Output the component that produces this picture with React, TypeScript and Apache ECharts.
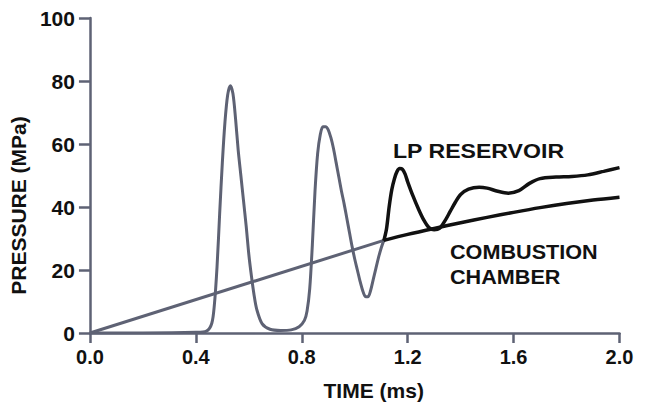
import React, { useEffect, useRef } from "react";
import * as echarts from "echarts";

// Time ticks (ms) and pressure ticks (MPa)
const xTicks = [0.0, 0.4, 0.8, 1.2, 1.6, 2.0];
const yTicks = [0, 20, 40, 60, 80, 100];

// Combustion chamber, early (grey) part
const chamberEarlyT = [0, 1.11];
const chamberEarlyP = [0, 29.4];

// Combustion chamber, late (black) part
const chamberLateT = [1.11, 1.2, 1.3, 1.4, 1.5, 1.6, 1.7, 1.8, 1.9, 2.0];
const chamberLateP = [29.4, 31.3, 33.2, 35.0, 36.7, 38.3, 39.8, 41.1, 42.2, 43.1];

// LP reservoir, early (grey) part
const lpEarlyT = [
  0, 0.2, 0.4, 0.44, 0.46, 0.47, 0.48, 0.49, 0.5, 0.51, 0.52, 0.53, 0.54, 0.55, 0.56,
  0.57, 0.58, 0.59, 0.6, 0.61, 0.62, 0.63, 0.65, 0.68, 0.72, 0.76, 0.79, 0.81, 0.82,
  0.83, 0.84, 0.85, 0.86, 0.87, 0.88, 0.89, 0.9, 0.91, 0.92, 0.93, 0.94, 0.95, 0.96,
  0.97, 0.98, 0.99, 1.0, 1.01, 1.02, 1.03, 1.04, 1.05, 1.06, 1.07, 1.08, 1.09, 1.1, 1.11,
];
const lpEarlyP = [
  0, 0, 0.2, 0.6, 3, 9, 21, 38, 54, 67, 75.5, 78.5, 76, 68, 58,
  50, 42, 34, 25, 18, 12, 7.5, 3, 1.2, 0.8, 1, 2, 4, 7,
  14, 28, 45, 57, 63, 65.5, 65.5, 64.5, 62, 58.5, 54, 49.5, 45, 41,
  36.5, 32, 27.5, 23.5, 20, 16.5, 13.5, 11.6, 11.5, 13.5, 17, 20.5, 24, 27, 29.4,
];

// LP reservoir, late (black) part
const lpLateT = [
  1.11, 1.12, 1.13, 1.14, 1.15, 1.16, 1.17, 1.18, 1.19, 1.2, 1.22, 1.24, 1.26, 1.28,
  1.3, 1.32, 1.34, 1.36, 1.38, 1.4, 1.43, 1.47, 1.5, 1.54, 1.58, 1.62, 1.66, 1.7,
  1.76, 1.82, 1.88, 1.94, 2.0,
];
const lpLateP = [
  29.3, 33, 40, 45.5, 49, 51.3, 52.2, 52, 50.5, 48, 43.5, 39.5, 36, 33.5,
  32.8, 33.2, 35.5, 38.5, 41.5, 44, 45.7, 46.3, 46, 45, 44.4, 45.2, 47.5, 49,
  49.5, 49.7, 50.2, 51.3, 52.5,
];

const pairs = (t: number[], p: number[]) => t.map((v, i) => [v, p[i]]);

const GREY = "#5e6274";
const BLACK = "#111111";
const FONT = "Liberation Sans, Arial, Helvetica, sans-serif";

export default function App() {
  const ref = useRef<HTMLDivElement>(null);

  useEffect(() => {
    if (!ref.current) return;
    const chart = echarts.init(ref.current, undefined, { renderer: "svg" });
    chart.setOption({
      animation: false,
      backgroundColor: "#ffffff",
      grid: { left: 87, right: 35.5, top: 18, bottom: 80 },
      xAxis: {
        type: "value",
        min: xTicks[0],
        max: xTicks[xTicks.length - 1],
        interval: 0.4,
        name: "TIME (ms)",
        nameLocation: "middle",
        nameGap: 47,
        nameTextStyle: {
          color: BLACK,
          fontFamily: FONT,
          fontSize: 21,
          fontWeight: "bold",
          padding: [0, 0, 0, 38],
        },
        axisLine: { show: true, lineStyle: { color: GREY, width: 2.5 } },
        axisTick: { show: true, length: 10, lineStyle: { color: GREY, width: 2.5 } },
        axisLabel: {
          margin: 14,
          color: BLACK,
          fontFamily: FONT,
          fontSize: 20,
          fontWeight: "bold",
          formatter: (v: number) => v.toFixed(1),
        },
        splitLine: { show: false },
      },
      yAxis: {
        type: "value",
        min: yTicks[0],
        max: yTicks[yTicks.length - 1],
        interval: 20,
        name: "PRESSURE (MPa)",
        nameLocation: "middle",
        nameGap: 59,
        nameTextStyle: {
          color: BLACK,
          fontFamily: FONT,
          fontSize: 21,
          fontWeight: "bold",
          padding: [0, 60, 0, 0],
        },
        axisLine: { show: true, lineStyle: { color: GREY, width: 2.5 } },
        axisTick: { show: true, length: 11, lineStyle: { color: GREY, width: 2.5 } },
        axisLabel: {
          margin: 15,
          color: BLACK,
          fontFamily: FONT,
          fontSize: 21,
          fontWeight: "bold",
        },
        splitLine: { show: false },
      },
      series: [
        {
          name: "Combustion chamber (early)",
          type: "line",
          data: pairs(chamberEarlyT, chamberEarlyP),
          showSymbol: false,
          lineStyle: { color: GREY, width: 3 },
        },
        {
          name: "LP reservoir (early)",
          type: "line",
          data: pairs(lpEarlyT, lpEarlyP),
          showSymbol: false,
          smooth: 0.3,
          lineStyle: { color: GREY, width: 3 },
        },
        {
          name: "Combustion chamber",
          type: "line",
          data: pairs(chamberLateT, chamberLateP),
          showSymbol: false,
          smooth: 0.3,
          lineStyle: { color: BLACK, width: 3.5 },
        },
        {
          name: "LP reservoir",
          type: "line",
          data: pairs(lpLateT, lpLateP),
          showSymbol: false,
          smooth: 0.3,
          lineStyle: { color: BLACK, width: 3.5 },
        },
      ],
      graphic: [
        {
          type: "text",
          x: 393,
          y: 151,
          scaleX: 1.1,
          style: {
            text: "LP RESERVOIR",
            fill: BLACK,
            font: `bold 21px ${FONT}`,
            textAlign: "left",
            textVerticalAlign: "middle",
          },
        },
        {
          type: "text",
          x: 450,
          y: 252.5,
          scaleX: 1.03,
          style: {
            text: "COMBUSTION",
            fill: BLACK,
            font: `bold 21px ${FONT}`,
            textAlign: "left",
            textVerticalAlign: "middle",
          },
        },
        {
          type: "text",
          x: 450,
          y: 277.5,
          scaleX: 1.03,
          style: {
            text: "CHAMBER",
            fill: BLACK,
            font: `bold 21px ${FONT}`,
            textAlign: "left",
            textVerticalAlign: "middle",
          },
        },
      ],
    });
    return () => chart.dispose();
  }, []);

  return (
    <div
      ref={ref}
      style={{ position: "fixed", left: 0, top: 0, width: 655, height: 413, background: "#fff" }}
    />
  );
}
